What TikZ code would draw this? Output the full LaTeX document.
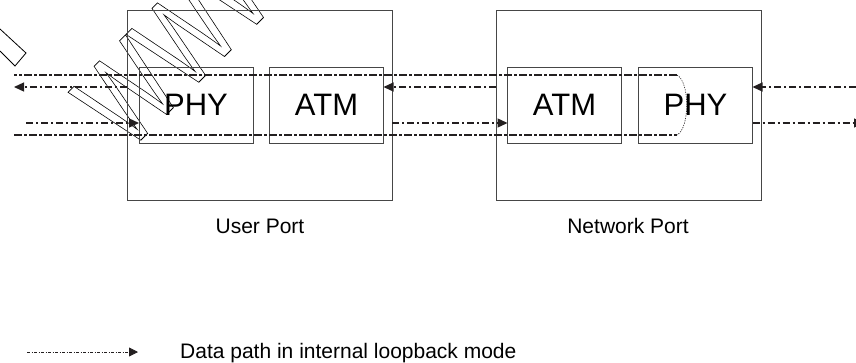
\documentclass[tikz,border=0pt]{standalone}
\usepackage{fontspec}
\setmainfont{Liberation Sans}
\usetikzlibrary{arrows.meta}
\definecolor{ink}{RGB}{35,31,32}
\definecolor{boxc}{RGB}{70,70,70}
\begin{document}
\begin{tikzpicture}[x=1pt,y=-1pt,
  portbox/.style={draw=boxc, line width=1pt, minimum width=265pt, minimum height=190pt, inner sep=0pt, outer sep=0pt},
  layer/.style={draw=boxc, line width=1pt, minimum width=114pt, minimum height=76pt, inner sep=0pt, outer sep=0pt, font=\fontsize{31}{31}\selectfont, text=black},
  flow/.style={draw=ink, line width=1.3pt, dash pattern=on 7pt off 3pt on 2pt off 3pt, -{Triangle[length=10pt,width=9pt]}},
  loopline/.style={draw=ink, line width=1.5pt, dash pattern=on 8pt off 2pt on 3pt off 2pt},
  turnline/.style={draw=ink, line width=0.6pt, dash pattern=on 1.2pt off 1.2pt},
  legline/.style={draw=ink, line width=0.8pt, dash pattern=on 3pt off 1.5pt on 1pt off 1.5pt, -{Triangle[length=9pt,width=9pt]}},
  lab/.style={anchor=base, inner sep=0pt, font=\fontsize{21}{21}\selectfont, text=black},
  wm/.style={draw=black, line width=0.8pt}
]
\useasboundingbox (0,0) rectangle (856,362);

% watermark
\draw[wm] (0,29) -- (26,53) -- (15,66) -- (0,51);
\node[rotate=45, xscale=0.7, anchor=base west, inner sep=0pt] (mark) at (128,153)
  {\fontsize{124}{124}\selectfont\special{pdf:literal direct 1 Tr 0.8 w}WWW\special{pdf:literal direct 0 Tr}};

% ports
\node[portbox] (up) at (259.5,105) {};
\node[portbox] (np) at (628.5,105) {};
\node[layer] (uphy) at (196,105) {PHY};
\node[layer] (uatm) at (326.5,105) {ATM};
\node[layer] (natm) at (564.5,105) {ATM};
\node[layer] (nphy) at (695.5,105) {PHY};

% free ends
\coordinate (lA) at (14,87);
\coordinate (lB) at (26,123);
\coordinate (rA) at (856,87);
\coordinate (rB) at (864,123);
\coordinate (lT) at (14,75);
\coordinate (lD) at (14,135);
\coordinate (tT) at (677,75);
\coordinate (tD) at (677,135);

% loopback path
\draw[loopline] (tT) -- (lT);
\draw[loopline] (lD) -- (tD);
\draw[turnline] (tT) .. controls (690,82) and (690,128) .. (tD);

% data flows
\draw[flow] (up.west |- lA) -- (lA);
\draw[flow] (np.west |- lA) -- (uatm.east |- lA);
\draw[flow] (rA) -- (nphy.east |- rA);
\draw[flow] (lB) -- (uphy.west |- lB);
\draw[flow] (up.east |- lB) -- (natm.west |- lB);
\draw[flow] (nphy.east |- lB) -- (rB);

% labels
\node[lab] (ulab) at (260,233) {User Port};
\node[lab] (nlab) at (628,233) {Network Port};

% legend
\coordinate (k1) at (27,352);
\coordinate (k2) at (138,352);
\draw[legline] (k1) -- (k2);
\node[lab, anchor=base west] (ltext) at (180,358) {Data path in internal loopback mode};
\end{tikzpicture}
\end{document}
